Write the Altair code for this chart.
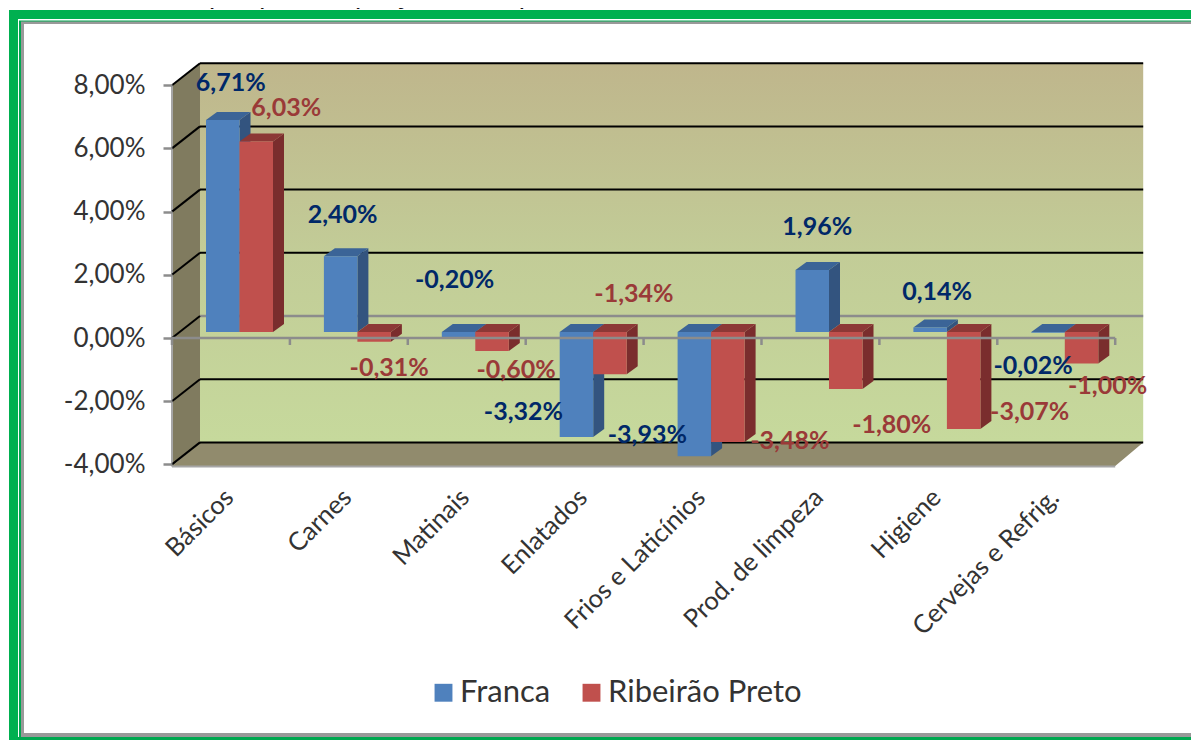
import altair as alt
import pandas as pd

categories = ["Básicos", "Carnes", "Matinais", "Enlatados", "Frios e Laticínios",
              "Prod. de limpeza", "Higiene", "Cervejas e Refrig."]
franca = [6.71, 2.40, -0.20, -3.32, -3.93, 1.96, 0.14, -0.02]
ribeirao = [6.03, -0.31, -0.60, -1.34, -3.48, -1.80, -3.07, -1.00]
series_names = ["Franca", "Ribeirão Preto"]
y_ticks = [-4, -2, 0, 2, 4, 6, 8]
title_text = "pesquisa de preços nos Supermercados de Franca e Ribeirão Preto."

# label nudges (px) relative to the bar's centre / end
franca_nudge = [(8, -37), (2, -41), (-4, -58), (-53, -25), (-47, -21), (5, -43), (7, -36), (-15, 33)]
ribeirao_nudge = [(30, -33), (15, 26), (24, 19), (24, -80), (62, -1), (46, 36), (66, -17), (26, 22)]

FONT = "Lato"
W, H = 1183, 732
X0, STEP = 164.0, 117.9      # svg x of category 0 on the front plane, px per category
Y0, UNIT = 330.0, 31.6       # svg y of 0 % on the front plane, px per percent point
x_scale = alt.Scale(domain=[(0 - X0) / STEP, (W - X0) / STEP], nice=False, zero=False)
y_scale = alt.Scale(domain=[(Y0 - H) / UNIT, Y0 / UNIT], nice=False, zero=False)

WALL_DX, WALL_DV = 28 / STEP, 22 / UNIT     # depth of the box
BAR_DX, BAR_DV = 11 / STEP, 8 / UNIT        # depth of a bar
BAR_X0, BAR_W = 34 / STEP, 33.5 / STEP      # bar placement inside a category
BAR_V0 = 6 / UNIT                           # lift of the bars' plane over the front plane
N = len(categories)

label_array = "[" + ",".join(f"'{c}'" for c in categories) + "]"
x_axis = alt.Axis(
    orient="bottom", offset=-(H - 458), values=[i + 0.5 for i in range(N)], zindex=1,
    labelExpr=f"{label_array}[floor(datum.value)]", labelAngle=-45, labelAlign="right",
    labelBaseline="middle", labelFont=FONT, labelFontSize=25.5, labelColor="#333333",
    labelPadding=27, labelOffset=-2, ticks=False, domain=False, grid=False, title=None,
    labelOverlap=False, labelBound=False, labelFlush=False, labelLimit=400)
y_axis = alt.Axis(
    orient="left", offset=-X0, values=y_ticks, zindex=1,
    labelExpr="(datum.value<0?'-':'')+replace(format(abs(datum.value),'.2f'),'.',',')+'%'",
    labelFont=FONT, labelFontSize=26, labelColor="#333333", labelPadding=18, tickSize=9,
    tickColor="#8C8C8C", tickWidth=2.5, domain=False, grid=False, title=None,
    labelOverlap=False, labelBound=False, labelFlush=False)
Xf = alt.X("x:Q", scale=x_scale, axis=x_axis)
Yf = alt.Y("y:Q", scale=y_scale, axis=y_axis)


def pct(v):
    return f"{v:.2f}".replace(".", ",") + "%"


def bar_rows(values, s):
    fronts, sides, tops, labels = [], [], [], []
    nudges = franca_nudge if s == 0 else ribeirao_nudge
    for i, v in enumerate(values):
        x0 = i + BAR_X0 + s * BAR_W
        x1 = x0 + BAR_W
        hi = max(v, 0) + BAR_V0
        lo = min(v, 0) + BAR_V0
        fronts.append(dict(x=x0, x2=x1, y=hi, y2=lo, serie=series_names[s]))
        sides.append(dict(k=i, x=x1, y=hi, y2=lo))
        sides.append(dict(k=i, x=x1 + BAR_DX, y=hi + BAR_DV, y2=lo + BAR_DV))
        tops.append(dict(k=i, y=hi, x=x0, x2=x1))
        tops.append(dict(k=i, y=hi + BAR_DV, x=x0 + BAR_DX, x2=x1 + BAR_DX))
        end = v + BAR_V0
        labels.append(dict(x=x0 + BAR_W / 2 + nudges[i][0] / STEP,
                           y=end - nudges[i][1] / UNIT, t=pct(v)))
    return map(pd.DataFrame, (fronts, sides, tops, labels))


def bar_layers(values, s, side_col, top_col, label_col):
    fronts, sides, tops, labels = bar_rows(values, s)
    side = alt.Chart(sides).mark_area(color=side_col, orient="vertical").encode(
        x=Xf, y=Yf, y2="y2:Q", detail="k:N")
    top = alt.Chart(tops).mark_area(color=top_col, orient="horizontal").encode(
        y=Yf, x=Xf, x2="x2:Q", detail="k:N")
    front = alt.Chart(fronts).mark_rect().encode(
        x=Xf, x2="x2:Q", y=Yf, y2="y2:Q",
        color=alt.Color("serie:N",
                        scale=alt.Scale(domain=series_names, range=["#4F81BD", "#C0504D"]),
                        legend=alt.Legend(orient="none", legendX=420, legendY=669, title=None,
                                          direction="horizontal", symbolType="square",
                                          symbolSize=320, symbolStrokeWidth=0, labelLimit=400,
                                          labelFont=FONT, labelFontSize=31, labelColor="#333333",
                                          columnPadding=25, labelOffset=1)))
    label = alt.Chart(labels).mark_text(font=FONT, fontSize=25, fontWeight=700, color=label_col,
                                        baseline="middle", align="center").encode(
        x=Xf, y=Yf, text="t:N")
    return [side, top, front], label


one = pd.DataFrame({"a": [0]})


def frame(color, x, x2, y, y2):
    return alt.Chart(one).mark_rect(color=color).encode(
        x=alt.value(x), x2=alt.value(x2), y=alt.value(y), y2=alt.value(y2))


frames = [
    frame("#00B050", 1, W, 2, H),
    frame("#FFFFFF", 10, W, 11, H - 3),
    frame("#00A850", 11, W, 12.5, H),
    frame("#999999", 13, W, 13.5, H - 3),
    frame("#FFFFFF", 16, W, 16, H - 7),
]

wall_top, wall_bottom = 8.0, -4.0
left_wall = alt.Chart(pd.DataFrame([
    dict(x=0, y=wall_top, y2=wall_bottom - 0.05),
    dict(x=WALL_DX, y=wall_top + WALL_DV, y2=wall_bottom + WALL_DV),
])).mark_area(color="#807B5F", orient="vertical").encode(x=Xf, y=Yf, y2="y2:Q")

back_wall = alt.Chart(pd.DataFrame([dict(x=WALL_DX, x2=N + WALL_DX, y=wall_top + WALL_DV, y2=wall_bottom + WALL_DV)])).mark_rect(
    color=alt.Gradient(gradient="linear", x1=0, x2=0, y1=0, y2=1,
                       stops=[alt.GradientStop(color="#BFB68C", offset=0),
                              alt.GradientStop(color="#C2CC97", offset=0.5),
                              alt.GradientStop(color="#C6D99C", offset=1)])
).encode(x=Xf, x2="x2:Q", y=Yf, y2="y2:Q")

floor = alt.Chart(pd.DataFrame([
    dict(y=wall_bottom - 0.05, x=0, x2=N),
    dict(y=wall_bottom + WALL_DV, x=WALL_DX, x2=N + WALL_DX),
])).mark_area(color="#918B6D", orient="horizontal").encode(y=Yf, x=Xf, x2="x2:Q")

grid_rows = pd.DataFrame([dict(x=WALL_DX, x2=N + WALL_DX, y=v + WALL_DV) for v in y_ticks if v != 0])
grid = alt.Chart(grid_rows).mark_rule(color="#000000", strokeWidth=2).encode(x=Xf, x2="x2:Q", y=Yf)
zero_back = alt.Chart(pd.DataFrame([dict(x=WALL_DX, x2=N + WALL_DX, y=WALL_DV)])).mark_rule(
    color="#8C8C8C", strokeWidth=2.5).encode(x=Xf, x2="x2:Q", y=Yf)
diag = alt.Chart(pd.DataFrame([dict(x=0, x2=WALL_DX, y=v, y2=v + WALL_DV) for v in y_ticks])).mark_rule(
    color="#000000", strokeWidth=2).encode(x=Xf, x2="x2:Q", y=Yf, y2="y2:Q")

left_edge = alt.Chart(pd.DataFrame([dict(x=0, y=wall_top, y2=wall_bottom - 0.07)])).mark_rule(
    color="#A6A6A6", strokeWidth=2).encode(x=Xf, y=Yf, y2="y2:Q")
floor_edge = alt.Chart(pd.DataFrame([dict(x=0, x2=N, y=wall_bottom - 0.07)])).mark_rule(
    color="#A6A6A6", strokeWidth=2).encode(x=Xf, x2="x2:Q", y=Yf)

zero_front = alt.Chart(pd.DataFrame([dict(x=0, x2=N, y=0)])).mark_rule(
    color="#8C8C8C", strokeWidth=2.5).encode(x=Xf, x2="x2:Q", y=Yf)
zero_ticks = alt.Chart(pd.DataFrame([dict(x=i, y=0, y2=-7 / UNIT) for i in range(N + 1)])).mark_rule(
    color="#8C8C8C", strokeWidth=2.5).encode(x=Xf, y=Yf, y2="y2:Q")

title = alt.Chart(pd.DataFrame([dict(t=title_text)])).mark_text(
    font=FONT, fontSize=27, color="#111111", align="center", baseline="alphabetic"
).encode(x=alt.value(595), y=alt.value(-4), text="t:N")

blue_bars, blue_label = bar_layers(franca, 0, "#33547F", "#3B6497", "#002868")
red_bars, red_label = bar_layers(ribeirao, 1, "#7A2D2D", "#8C3836", "#9A3A38")

chart = alt.layer(
    *frames, title, left_wall, back_wall, floor, left_edge, floor_edge,
    grid, zero_back, diag, *blue_bars, *red_bars, zero_front, zero_ticks, blue_label, red_label,
).resolve_scale(x="shared", y="shared").properties(
    width=W, height=H, padding=0, autosize=alt.AutoSizeParams(type="none"),
).configure_view(stroke=None)

chart.save("out.html", embed_options={"renderer": "svg", "actions": False})
